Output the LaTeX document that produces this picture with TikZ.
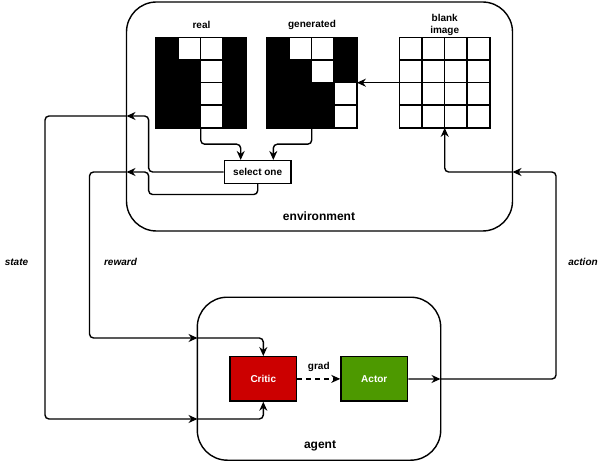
\documentclass[tikz,border=0pt]{standalone}
\usepackage{fontspec}
\setmainfont{Liberation Sans}
\usetikzlibrary{arrows.meta, positioning, calc}
\definecolor{criticRed}{RGB}{204, 0, 0}
\definecolor{actorGreen}{RGB}{77, 153, 0}

% black cells of a 4x4 pixel image
\newcommand{\blackcells}[2]{%
  \foreach \c/\r in {#2}
    \fill ($(#1.north west)+(\c*22.5,\r*22.5)$) rectangle ++(22.5,22.5);
}
% cell borders of a 4x4 pixel image
\newcommand{\imagegrid}[1]{%
  \foreach \k in {1,2,3} {
    \draw[gridline] ($(#1.north west)+(\k*22.5,0)$) -- ++(0,90);
    \draw[gridline] ($(#1.north west)+(0,\k*22.5)$) -- ++(90,0);
  }
  \draw[gridline] (#1.north west) rectangle (#1.south east);
}

\begin{document}
\begin{tikzpicture}[
        x=1pt, y=-1pt,
        font=\fontsize{10}{12}\selectfont\bfseries,
        groupbox/.style={draw, line width=1.4pt, rounded corners=30pt},
        grouplabel/.style={font=\fontsize{12}{14}\selectfont\bfseries},
        cellgrid/.style={minimum size=90pt, inner sep=0pt},
        gridline/.style={line width=1.4pt},
        selectbox/.style={draw, line width=1.4pt, fill=white, minimum width=66.7pt, minimum height=22.7pt, inner sep=0pt},
        blockbox/.style={draw, line width=1.4pt, text=white, minimum width=66.7pt, minimum height=44.3pt, inner sep=0pt},
        flowlabel/.style={font=\fontsize{10}{12}\selectfont\bfseries\itshape},
        arrow/.style={-{Stealth[length=9pt, width=8pt]}, line width=1.4pt, rounded corners=4pt}
    ]
        \useasboundingbox (0,0) rectangle (602,462);

        % Environment
        \node[groupbox, minimum width=386pt, minimum height=229pt] (env) at (319.5,116.5) {};
        \node[grouplabel] (envlabel) at (319,216) {environment};
        \node[cellgrid] (real) at (200.7,82.7) {};
        \node[cellgrid] (gen) at (311.7,82.7) {};
        \node[cellgrid] (blank) at (444.7,82.7) {};
        \node (reallabel) at (201.5,25) {real};
        \node (genlabel) at (312,25) {generated};
        \node[align=center] (blanklabel) at (444.7,25) {blank\\image};
        \blackcells{real}{0/0,3/0,0/1,1/1,3/1,0/2,1/2,3/2,0/3,1/3,3/3}
        \blackcells{gen}{0/0,3/0,0/1,1/1,3/1,0/2,1/2,2/2,0/3,1/3,2/3}
        \imagegrid{real}
        \imagegrid{gen}
        \imagegrid{blank}
        \node[selectbox] (select) at (257.7,172) {select one};

        % Agent
        \node[groupbox, minimum width=243.4pt, minimum height=163pt] (agent) at (319,378.7) {};
        \node[grouplabel] (agentlabel) at (320,445.5) {agent};
        \node[blockbox, fill=criticRed] (critic) at (263.3,378.9) {Critic};
        \node[blockbox, fill=actorGreen] (actor) at (374.3,378.9) {Actor};

        % Crossing points on the box borders
        \coordinate (envstate) at (126.5,116);
        \coordinate (envreward) at (126.5,172);
        \coordinate (envaction) at (512.5,172);
        \coordinate (agentstate) at (197.5,419);
        \coordinate (agentreward) at (197.5,338);
        \coordinate (agentaction) at (440.5,379);

        % Flow labels
        \node[flowlabel] (statelabel) at (16.5,262) {state};
        \node[flowlabel] (rewardlabel) at (120.5,262) {reward};
        \node[flowlabel] (actionlabel) at (583,262) {action};

        % Inside the environment
        \draw[arrow] (real.south) -- ++(0,16.3) -| ([xshift=-17]select.north);
        \draw[arrow] (gen.south) -- ++(0,16.3) -| ([xshift=15.6]select.north);
        \draw[arrow] (blank.west) -- (gen.east);
        \draw[arrow] (select.west) -- ++(-75,0) |- (envstate);
        \draw[arrow] (select.south) -- ++(0,10.5) -| ([xshift=-75]select.west) -- (envreward);

        % State and reward to the critic
        \draw[arrow] (envstate) -- ++(-81.5,0) |- (agentstate);
        \draw[arrow] (agentstate) -| (critic.south);
        \draw[arrow] (envreward) -- ++(-37,0) |- (agentreward);
        \draw[arrow] (agentreward) -| (critic.north);

        % Gradient and action
        \draw[arrow, dash pattern=on 5pt off 4pt] (critic) -- node[above=3pt] (gradlabel) {grad} (actor);
        \draw[arrow] (actor) -- (agentaction);
        \draw[arrow] (agentaction) -- ++(115.5,0) |- (envaction);
        \draw[arrow] (envaction) -| (blank.south);
    \end{tikzpicture}
\end{document}
